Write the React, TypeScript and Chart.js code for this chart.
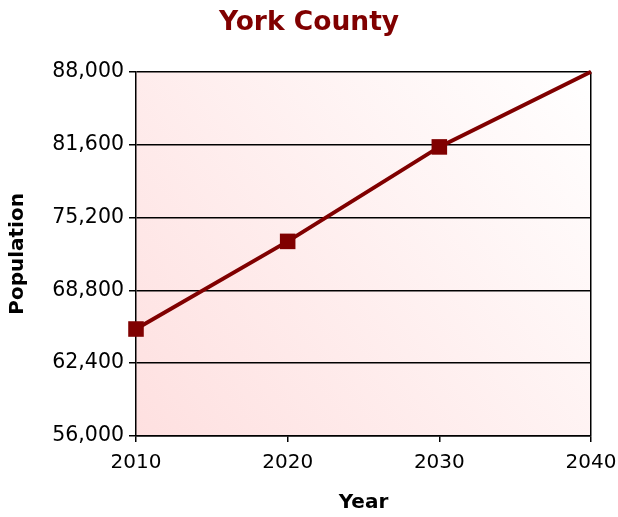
import React, { useEffect, useRef } from "react";
import { Chart, registerables } from "chart.js";

Chart.register(...registerables);

const title = "York County";
const xTitle = "Year";
const yTitle = "Population";
const years = [2010, 2020, 2030, 2040];
const population = [65400, 73100, 81400, 88000];
const markerRadius = [11, 11, 11, 0];
const yMin = 56000;
const yMax = 88000;
const yStep = 6400;
const xMin = 2010;
const xMax = 2040;
const xStep = 10;

const FONT = "'DejaVu Sans', Verdana, sans-serif";
const DARK_RED = "#800000";

const bgPlugin = {
  id: "plotBg",
  beforeDraw(chart: any) {
    const { ctx, chartArea } = chart;
    if (!chartArea) return;
    const { left, top, right, bottom } = chartArea;
    const g = ctx.createLinearGradient(left, bottom, right, top);
    g.addColorStop(0, "#fee0e0");
    g.addColorStop(1, "#ffffff");
    ctx.save();
    ctx.fillStyle = g;
    ctx.fillRect(left, top, right - left, bottom - top);
    ctx.restore();
  },
};

export default function App() {
  const ref = useRef<HTMLCanvasElement | null>(null);
  useEffect(() => {
    if (!ref.current) return;
    const chart = new Chart(ref.current, {
      type: "line",
      data: {
        datasets: [
          {
            data: years.map((y, i) => ({ x: y, y: population[i] })),
            borderColor: DARK_RED,
            backgroundColor: DARK_RED,
            borderWidth: 4,
            pointStyle: "rect",
            pointRadius: markerRadius,
            pointHoverRadius: markerRadius,
            pointBackgroundColor: DARK_RED,
            pointBorderColor: DARK_RED,
            pointBorderWidth: 0,
            fill: false,
            tension: 0,
            clip: false as any,
          },
        ],
      },
      options: {
        animation: false,
        responsive: true,
        maintainAspectRatio: false,
        layout: { padding: 0 },
        plugins: {
          legend: { display: false },
          tooltip: { enabled: false },
          title: {
            display: true,
            text: title,
            color: DARK_RED,
            font: { family: FONT, size: 26.5, weight: "bold" },
            padding: { top: 7, bottom: 33 },
          },
        },
        scales: {
          x: {
            type: "linear",
            min: xMin,
            max: xMax,
            afterFit(scale: any) {
              scale.height = 81;
              scale.paddingLeft = 0;
              scale.paddingRight = 27;
            },
            ticks: {
              stepSize: xStep,
              color: "#000",
              padding: 9,
              font: { family: FONT, size: 20 },
              callback: (v: any) => String(v),
              maxRotation: 0,
            },
            grid: {
              color: (c: any) => (c.tick && c.tick.value === xMax ? "#000" : "rgba(0,0,0,0)"),
              tickColor: "#000",
              tickLength: 6,
              lineWidth: 1.5,
            },
            border: { color: "#000", width: 1.5 },
            title: {
              display: true,
              text: xTitle,
              color: "#000",
              font: { family: FONT, size: 20, weight: "bold" },
              padding: { top: 0, bottom: 2 },
            },
          },
          y: {
            type: "linear",
            min: yMin,
            max: yMax,
            afterFit(scale: any) {
              scale.width = 136;
            },
            ticks: {
              stepSize: yStep,
              color: "#000",
              padding: 5,
              font: { family: FONT, size: 20.5 },
              callback: (v: any) => Number(v).toLocaleString("en-US"),
            },
            grid: {
              color: "#000",
              tickColor: "#000",
              tickLength: 7,
              lineWidth: 1.5,
            },
            border: { color: "#000", width: 1.5 },
            title: {
              display: true,
              text: yTitle,
              color: "#000",
              font: { family: FONT, size: 20, weight: "bold" },
              padding: { top: 6, bottom: 0 },
            },
          },
        },
      },
      plugins: [bgPlugin],
    });
    return () => chart.destroy();
  }, []);
  return (
    <div style={{ position: "fixed", left: 0, top: 0, width: 618, height: 517, background: "#fff" }}>
      <canvas ref={ref} />
    </div>
  );
}
